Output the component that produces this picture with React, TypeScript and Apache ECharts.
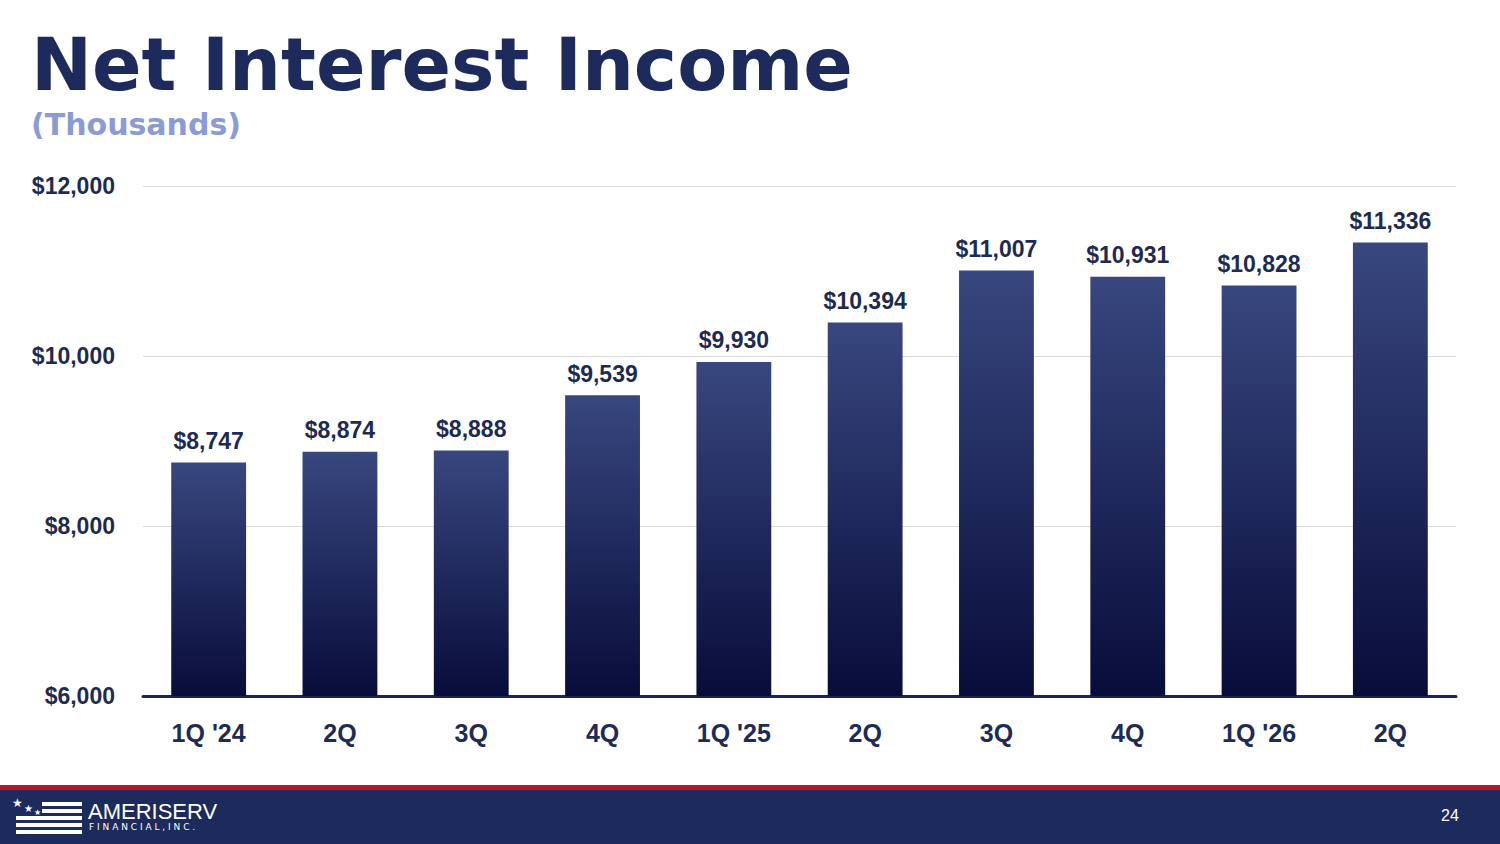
import React, { useEffect, useRef } from "react";
import * as echarts from "echarts";

const categories = ["1Q '24", "2Q", "3Q", "4Q", "1Q '25", "2Q", "3Q", "4Q", "1Q '26", "2Q"];
const netInterestIncome = [8747, 8874, 8888, 9539, 9930, 10394, 11007, 10931, 10828, 11336];
const yTicks = { min: 6000, max: 12000, interval: 2000 };
const titleText = "Net Interest Income";
const subtitleText = "(Thousands)";
const pageNumber = "24";

const fmt = (v: number) => "$" + v.toLocaleString("en-US");

export default function App() {
  const ref = useRef<HTMLDivElement>(null);
  useEffect(() => {
    document.body.style.margin = "0";
    const chart = echarts.init(ref.current!, null, { renderer: "svg" });
    const font = "'Liberation Sans', Arial, sans-serif";
    const heavy = "'DejaVu Sans', 'Liberation Sans', sans-serif";
    const navy = "#1d2a5c";
    const stripes: any[] = [];
    const stripeY = [802, 809, 816, 823, 830];
    stripeY.forEach((y, i) => {
      const x0 = i < 2 ? 42 : 16;
      stripes.push({ type: "rect", shape: { x: x0, y, width: 82 - x0, height: 4 }, style: { fill: "#ffffff" } });
    });
    chart.setOption({
      animation: false,
      textStyle: { fontFamily: font },
      grid: { left: 143, right: 44, top: 186, bottom: 148 },
      xAxis: {
        type: "category",
        data: categories,
        axisLine: { lineStyle: { color: "#1b2452", width: 3 } },
        axisTick: { show: false },
        axisLabel: { color: "#1e2b55", fontSize: 25, fontWeight: "bold", margin: 24, fontFamily: font },
      },
      yAxis: {
        type: "value",
        min: yTicks.min,
        max: yTicks.max,
        interval: yTicks.interval,
        axisLine: { show: false },
        axisTick: { show: false },
        splitLine: { lineStyle: { color: "#d9d9d9", width: 1 } },
        axisLabel: {
          color: "#1e2b50",
          fontSize: 23,
          fontWeight: "bold",
          margin: 28,
          fontFamily: font,
          formatter: (v: number) => fmt(v),
        },
      },
      series: [
        {
          type: "bar",
          data: netInterestIncome,
          barWidth: "57%",
          itemStyle: {
            color: new echarts.graphic.LinearGradient(0, 0, 0, 1, [
              { offset: 0, color: "#38477f" },
              { offset: 1, color: "#080c3a" },
            ]),
          },
          label: {
            show: true,
            position: "top",
            distance: 10,
            color: "#1e2b50",
            fontSize: 23,
            fontWeight: "bold",
            fontFamily: font,
            formatter: (p: any) => fmt(p.value),
          },
        },
      ],
      graphic: [
        {
          type: "text",
          x: 31,
          y: 64,
          style: { text: titleText, fill: navy, font: `bold 73px ${heavy}`, verticalAlign: "middle" },
        },
        {
          type: "text",
          x: 31,
          y: 124,
          style: { text: subtitleText, fill: "#8a9bd6", font: `bold 30px ${heavy}`, verticalAlign: "middle" },
        },
        { type: "rect", shape: { x: 0, y: 785, width: 1500, height: 5 }, style: { fill: "#b0182a" } },
        { type: "rect", shape: { x: 0, y: 790, width: 1500, height: 54 }, style: { fill: navy } },
        ...stripes,
        { type: "text", x: 12, y: 797, style: { text: "★", fill: "#fff", font: "12px 'DejaVu Sans'" } },
        { type: "text", x: 24, y: 803, style: { text: "★", fill: "#fff", font: "10px 'DejaVu Sans'" } },
        { type: "text", x: 34, y: 808, style: { text: "★", fill: "#fff", font: "8px 'DejaVu Sans'" } },
        {
          type: "text",
          x: 88,
          y: 800,
          style: { text: "AMERISERV", fill: "#fff", font: `22px ${font}` },
        },
        {
          type: "text",
          x: 89,
          y: 822,
          style: { text: "F I N A N C I A L , I N C .", fill: "#fff", font: `9px 'DejaVu Sans'` },
        },
        {
          type: "text",
          x: 1441,
          y: 807,
          style: { text: pageNumber, fill: "#fff", font: `16px ${font}` },
        },
      ],
    });
    return () => chart.dispose();
  }, []);
  return <div ref={ref} style={{ position: "absolute", left: 0, top: 0, width: 1500, height: 844, background: "#fff" }} />;
}
